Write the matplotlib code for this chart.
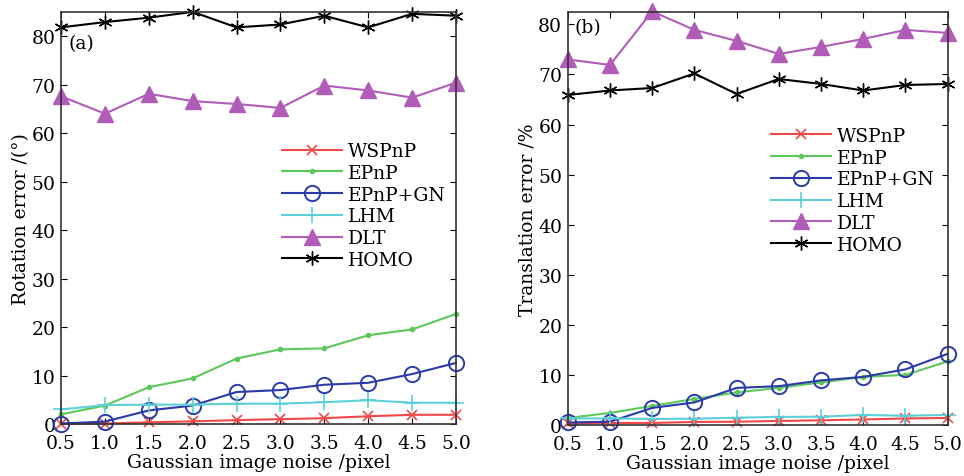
import matplotlib
matplotlib.use('Agg')
import matplotlib.pyplot as plt

plt.rcParams['font.family'] = ['DejaVu Serif']

# noise levels
noise = [0.5, 1.0, 1.5, 2.0, 2.5, 3.0, 3.5, 4.0, 4.5, 5.0]
xtick_labels = ['0.5', '1.0', '1.5', '2.0', '2.5', '3.0', '3.5', '4.0', '4.5', '5.0']

# (a) rotation error
rot_wspnp = [0.0, 0.1, 0.35, 0.55, 0.8, 1.0, 1.2, 1.6, 1.9, 1.9]
rot_epnp = [2.0, 3.8, 7.6, 9.4, 13.5, 15.4, 15.6, 18.3, 19.5, 22.7]
rot_epnp_gn = [0.1, 0.5, 2.8, 3.8, 6.6, 7.0, 8.1, 8.5, 10.3, 12.6]
rot_lhm = [3.0, 3.9, 4.0, 4.0, 4.2, 4.2, 4.5, 4.9, 4.4, 4.4]
rot_dlt = [67.6, 64.0, 68.1, 66.6, 66.0, 65.2, 69.8, 68.8, 67.3, 70.4]
rot_homo = [81.8, 82.9, 83.8, 85.0, 81.8, 82.4, 84.2, 81.8, 84.6, 84.2]

# (b) translation error
tr_wspnp = [0.3, 0.4, 0.4, 0.6, 0.65, 0.8, 0.93, 1.1, 1.3, 1.4]
tr_epnp = [1.4, 2.4, 3.8, 5.2, 6.5, 7.4, 8.5, 9.6, 10.0, 12.7]
tr_epnp_gn = [0.5, 0.65, 3.4, 4.5, 7.4, 7.75, 8.9, 9.6, 11.1, 14.2]
tr_lhm = [1.3, 1.3, 1.2, 1.25, 1.45, 1.6, 1.65, 2.0, 1.85, 2.0]
tr_dlt = [73.0, 71.9, 82.6, 78.9, 76.7, 74.1, 75.5, 77.1, 78.9, 78.3]
tr_homo = [65.9, 66.8, 67.3, 70.2, 66.1, 69.1, 68.1, 66.8, 67.9, 68.1]

names = ['WSPnP', 'EPnP', 'EPnP+GN', 'LHM', 'DLT', 'HOMO']
asterisk = (6, 2, 0)
styles = [
    dict(color='#f04848', marker='x', markersize=7, mew=1.2),
    dict(color='#5cc85c', marker='.', markersize=6),
    dict(color='#2a3aa8', marker='o', markersize=11, mfc='none', mew=1.4),
    dict(color='#5ccfd8', marker='+', markersize=11, mew=1.2),
    dict(color='#b05cb8', marker='^', markersize=11),
    dict(color='black', marker=asterisk, markersize=10, mew=1.0),
]

fig = plt.figure(figsize=(9.64, 4.77), dpi=100)
ax1 = fig.add_axes([0.0633, 0.109, 0.4097, 0.864])
ax2 = fig.add_axes([0.589, 0.107, 0.394, 0.866])

panels = [
    (ax1, [rot_wspnp, rot_epnp, rot_epnp_gn, rot_lhm, rot_dlt, rot_homo],
     'Rotation error /(°)', (0, 85), '(a)', 0.945, (0.555, 0.372)),
    (ax2, [tr_wspnp, tr_epnp, tr_epnp_gn, tr_lhm, tr_dlt, tr_homo],
     'Translation error /%', (0, 82.5), '(b)', 0.985, (0.53, 0.41)),
]

for ax, series, ylab, ylim, tag, tag_y, legpos in panels:
    for vals, name, st in zip(series, names, styles):
        ax.plot(noise, vals, label=name, linewidth=1.5, clip_on=False, **st)
    ax.set_xlim(0.5, 5.0)
    ax.set_ylim(*ylim)
    ax.set_xticks(noise)
    ax.set_xticklabels(xtick_labels)
    ax.set_yticks(range(0, 90, 10))
    ax.tick_params(direction='in', length=4, labelsize=13.5, top=True, right=True, pad=4)
    ax.tick_params(axis='x', pad=7)
    ax.set_xlabel('Gaussian image noise /pixel', fontsize=13.5, labelpad=1)
    ax.set_ylabel(ylab, fontsize=13.5, labelpad=1)
    for sp in ax.spines.values():
        sp.set_linewidth(1.2)
        sp.set_color('#333333')
    ax.text(0.018, tag_y, tag, transform=ax.transAxes, fontsize=13.5, va='top', ha='left')
    ax.legend(loc='lower left', bbox_to_anchor=legpos, frameon=False, fontsize=13.5,
              handlelength=3.2, labelspacing=0.2, handletextpad=0.3, borderpad=0.1,
              borderaxespad=0)

plt.savefig('out.png', dpi=100)
